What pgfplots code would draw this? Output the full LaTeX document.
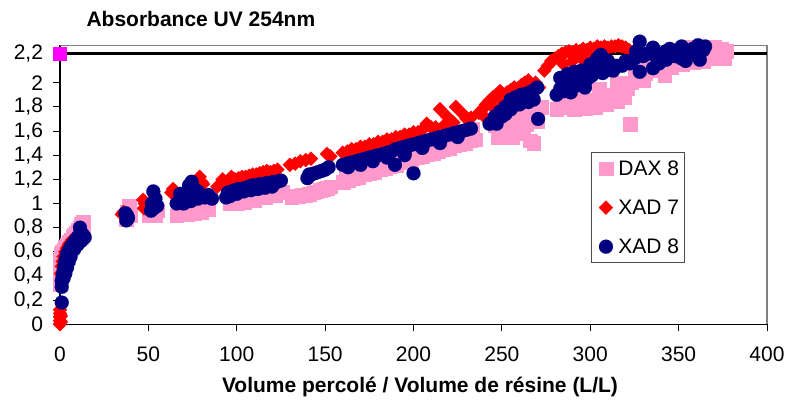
\documentclass[border=0pt]{standalone}
\usepackage{pgfplots}
\pgfplotsset{compat=1.18}
\usepackage{fontspec}
\setmainfont{Liberation Sans}
\definecolor{daxpink}{HTML}{FF99CC}
\definecolor{xadred}{HTML}{FF0000}
\definecolor{xadnavy}{HTML}{000080}
\definecolor{refmag}{HTML}{FF00FF}
\begin{document}
\begin{tikzpicture}[x=1pt,y=1pt]
\path[use as bounding box] (0,0) rectangle (785,401);
\begin{axis}[
  at={(60pt,76.7pt)}, anchor=south west,
  scale only axis, width=707pt, height=278.8pt,
  xmin=0, xmax=400, ymin=0, ymax=2.308,
  clip=false,
  axis x line*=bottom, axis y line*=left,
  axis line style={black, line width=1.2pt, -},
  xtick={0,50,...,400},
  ytick={0,0.2,0.4,0.6,0.8,1,1.2,1.4,1.6,1.8,2,2.243},
  yticklabels={0,{0,2},{0,4},{0,6},{0,8},1,{1,2},{1,4},{1,6},{1,8},2,{2,2}},
  tick align=outside, major tick length=7pt,
  tick style={black, line width=1pt},
  /pgf/number format/assume math mode=true,
  ticklabel style={font=\fontsize{21}{25}\selectfont},
  xticklabel style={yshift=-12.5pt},
  yticklabel style={xshift=-6.5pt},
  legend style={at={(0.751,0.618)}, anchor=north west, draw=black!70, line width=1pt,
    font=\fontsize{21}{25}\selectfont, row sep=19pt, inner xsep=3pt, inner ysep=6pt},
  legend image code/.code={\path (0pt,0pt) (21pt,0pt); \draw[#1] plot coordinates {(11pt,0pt)};},
  legend cell align=left,
]
\draw[gray, line width=1.4pt] (rel axis cs:0,1) -- (rel axis cs:1,1) -- (rel axis cs:1,0);
% DAX 8
\addplot[only marks, mark=square*, mark size=6.8pt, color=daxpink, mark options={line width=0.1pt}] coordinates {
(0,0.33) (0,0.4) (0,0.47) (0,0.53) (0.5,0.58) (1,0.6) (2,0.62) (3,0.64) (4,0.66) (5,0.68) (6,0.7) (7,0.72) (8,0.74) (9,0.76) (10,0.78) (11,0.8) (12,0.83) (13,0.85) (12,0.72) (13,0.76)
(37.5,0.87) (38,0.93) (39,0.98) (39.5,0.9)
(50,0.9) (51,0.93) (52,0.95) (53,0.92) (54,0.9) (55,0.94)
(66,0.9) (68,0.92) (70,0.93) (72,0.91) (74,0.94) (76,0.92) (78,0.95) (80,0.93) (82,0.96) (84,0.95) (70,0.96) (76,0.97)
(96,1.0) (98,1.01) (100,1.0) (102,1.02) (104,1.01) (106,1.03) (108,1.04) (110,1.03) (112,1.05) (114,1.06) (116,1.05) (118,1.07) (120,1.08) (122,1.07) (124,1.09) (126,1.1) (100,1.04) (110,1.07)
(131,1.05) (133,1.06) (135,1.06) (137,1.07) (139,1.07) (141,1.08) (143,1.09) (145,1.1) (147,1.11) (149,1.12) (151,1.13) (153,1.14)
(160,1.18) (163,1.19) (166,1.21) (169,1.22) (172,1.24) (175,1.25) (178,1.26) (181,1.28) (184,1.29) (187,1.31) (190,1.32) (193,1.34) (196,1.35) (199,1.36) (202,1.38) (205,1.39) (208,1.41) (211,1.42) (214,1.43) (217,1.45) (220,1.46) (223,1.48) (226,1.49) (229,1.5) (232,1.52) (235,1.53)
(161.5,1.28) (167.5,1.3) (173.5,1.33) (179.5,1.36) (185.5,1.39) (191.5,1.42) (197.5,1.44) (203.5,1.47) (209.5,1.5) (215.5,1.53) (221.5,1.56) (227.5,1.59) (233.5,1.62)
(248,1.55) (250,1.6) (252,1.58) (254,1.62) (256,1.6) (258,1.65) (260,1.63) (262,1.68) (264,1.66) (266,1.52) (268,1.5) (266,1.7) (268,1.74) (270,1.78) (272,1.8) (256,1.55) (262,1.58) (270,1.68) (246,1.65) (252,1.68) (258,1.72) (264,1.75)
(281,1.78) (283,1.82) (285,1.8) (287,1.85) (289,1.83) (291,1.78) (293,1.8) (295,1.84) (297,1.79) (299,1.82) (301,1.86) (303,1.8) (305,1.84) (307,1.88) (309,1.82) (311,1.86) (313,1.9) (315,1.85) (317,1.92) (319,1.88) (321,1.95) (323,2.0) (285,1.9) (295,1.92) (305,1.95) (315,2.0) (322.5,1.66)
(325,2.05) (328,2.1) (331,2.08) (334,2.12) (337,2.1) (340,2.14) (343,2.16) (346,2.13) (349,2.17) (352,2.15) (355,2.19) (358,2.17) (361,2.2) (364,2.18) (367,2.22) (370,2.2) (373,2.23) (376,2.2) (377,2.26) (374,2.28) (370,2.3) (365,2.3) (360,2.28) (355,2.3) (350,2.27) (345,2.25) (340,2.24) (335,2.2) (330,2.18) (330,2.02) (342,2.06)
};
\addlegendentry{DAX 8}
% XAD 7
\addplot[only marks, mark=square*, mark size=5pt, color=xadred, mark options={rotate=45, line width=0.1pt}] coordinates {
(0,0.0) (0,0.03) (0,0.06) (0,0.09) (0,0.12) (0.5,0.02) (0.5,0.07)
(0.5,0.42) (1,0.48) (1.5,0.52) (2,0.56) (3,0.6) (4,0.63) (5,0.66) (6,0.68) (7,0.7)
(35,0.91) (36,0.93)
(47,1.03) (47.5,0.96) (48,1.0)
(63,1.09) (64,1.12) (65,1.1) (66,1.08) (79,1.22) (80,1.18) (78,1.2) (81,1.16)
(89,1.14) (91,1.16) (93,1.17) (95,1.18) (97,1.19) (99,1.2) (101,1.21) (103,1.22) (105,1.22) (107,1.23) (109,1.24) (111,1.24) (113,1.25) (115,1.26) (117,1.27) (119,1.26) (121,1.27) (123,1.28) (92,1.2) (97,1.22)
(130,1.32) (133,1.33) (136,1.35) (139,1.36) (142,1.37) (151,1.41) (153,1.39)
(160,1.42) (162.5,1.43) (165,1.45) (167.5,1.45) (170,1.47) (172.5,1.47) (175,1.49) (177.5,1.49) (180,1.51) (182.5,1.51) (185,1.53) (187.5,1.53) (190,1.55) (192.5,1.55) (195,1.57) (197.5,1.57) (200,1.59) (202.5,1.59) (205,1.61) (207.5,1.66) (210,1.63) (212.5,1.63) (215,1.78) (217.5,1.65) (219,1.72) (222.5,1.67) (224,1.8) (228,1.74) (230,1.7) (232.5,1.71)
(237,1.75) (239,1.78) (241,1.82) (243,1.85) (245,1.88) (247,1.9) (249,1.93) (251,1.9) (253,1.92) (255,1.94) (257,1.96) (259,1.95) (261,1.98) (263,2.0) (265,2.02) (267,1.98) (269,2.0) (271,1.96) (240,1.72) (245,1.8) (250,1.85) (255,1.88)
(274,2.1) (276,2.14) (278,2.18) (280,2.2) (282,2.22) (284,2.24) (286,2.25) (288,2.26) (290,2.25) (292,2.27) (294,2.26) (296,2.28) (298,2.27) (300,2.29) (302,2.28) (304,2.3) (306,2.29) (308,2.3) (310,2.29) (312,2.3) (314,2.3) (316,2.31) (318,2.3) (320,2.29) (322,2.27) (285,2.15) (290,2.18) (295,2.2) (300,2.22)
};
\addlegendentry{XAD 7}
% XAD 8
\addplot[only marks, mark=*, mark size=7pt, color=xadnavy, mark options={line width=0.1pt}] coordinates {
(1,0.18) (1,0.31) (1,0.36) (1.5,0.4) (2,0.44) (2.5,0.48) (3,0.52) (3.5,0.55) (4,0.58) (5,0.61) (6,0.64) (7,0.66) (8,0.68) (9,0.7) (10,0.72) (11,0.74) (12,0.76) (13,0.74) (11.3,0.8) (14,0.72) (2,0.38) (3,0.42) (4,0.47) (5,0.52) (6,0.56) (8,0.62) (10,0.66) (12,0.69)
(37.5,0.86) (38,0.9) (38.5,0.88) (37,0.92)
(52.8,1.1) (52,1.0) (53,0.96) (55,0.98) (54,1.04) (51.5,0.94)
(66,1.0) (68,1.02) (70,1.0) (72,1.04) (74,1.02) (76,1.06) (78,1.04) (80,1.06) (82,1.05) (84,1.07) (70,1.06) (72,1.1) (74,1.14) (74.5,1.18) (76,1.12) (78,1.1) (73,1.15) (75,1.08) (68,1.08) (86,1.04)
(94,1.05) (95,1.09) (97,1.1) (99,1.11) (101,1.12) (103,1.12) (105,1.13) (107,1.14) (109,1.15) (111,1.15) (113,1.16) (115,1.16) (117,1.17) (119,1.17) (121,1.18) (123,1.18) (125,1.19) (96,1.06) (100,1.08) (104,1.1) (108,1.11) (112,1.12) (116,1.13) (120,1.14)
(140,1.21) (142,1.24) (144,1.25) (146,1.26) (148,1.27) (150,1.28) (152,1.3) (141,1.24)
(160,1.32) (162.5,1.33) (165,1.34) (167.5,1.35) (170,1.36) (172.5,1.37) (175,1.38) (177.5,1.39) (180,1.4) (182.5,1.41) (185,1.42) (187.5,1.43) (190,1.45) (192.5,1.46) (195,1.47) (197.5,1.48) (200,1.49) (202.5,1.5) (205,1.51) (207.5,1.52) (210,1.53) (212.5,1.54) (215,1.55) (217.5,1.56) (220,1.57) (222.5,1.58) (225,1.59) (227.5,1.6) (230,1.61) (232.5,1.62)
(163,1.3) (170,1.32) (177,1.35) (185,1.38) (195,1.42) (205,1.46) (215,1.5) (225,1.55) (189.5,1.32) (200,1.25) (195,1.4)
(243,1.66) (246,1.72) (249,1.76) (252,1.8) (255,1.86) (258,1.88) (261,1.9) (264,1.91) (267,1.93) (270,1.96) (245,1.68) (250,1.72) (255,1.78) (260,1.82) (265,1.84) (268,1.86) (252,1.74) (247,1.66) (270.5,1.7) (262,1.86) (258,1.82)
(281,1.9) (283,1.95) (285,1.93) (287,1.96) (289,1.98) (291,2.0) (293,1.98) (295,2.02) (297,2.0) (299,2.04) (301,2.06) (303,2.1) (305,2.12) (307,2.08) (309,2.1) (311,2.12) (313,2.1) (315,2.14) (283,2.04) (287,2.07) (291,2.09) (295,2.1) (300,2.15) (304,2.2) (306,2.23) (310,2.18) (297,1.96) (289,1.92)
(318,2.14) (320,2.18) (322.5,2.16) (325,2.2) (326,2.26) (328,2.34) (328,2.09) (330,2.22) (332,2.24) (335.5,2.12) (335.5,2.29) (337,2.22) (340,2.24) (343,2.26) (343,2.19) (346,2.24) (348,2.22) (351.7,2.3) (351.7,2.2) (354,2.18) (356,2.24) (358,2.28) (361,2.31) (362,2.19) (364,2.27) (365,2.3) (339,2.16) (345,2.28)
};
\addlegendentry{XAD 8}
\addplot[black, line width=3pt, forget plot] coordinates {(0,2.243) (400,2.243)};
\addplot[only marks, mark=square*, mark size=6.5pt, color=refmag, mark options={line width=0.1pt}, forget plot] coordinates {(0,2.243)};
\end{axis}
\node[anchor=base west, font=\bfseries\fontsize{21}{25}\selectfont] at (83,374.3) {Absorbance UV 254nm};
\node[anchor=base, font=\bfseries\fontsize{21}{25}\selectfont] at (420,8) {Volume percolé / Volume de résine (L/L)};
\end{tikzpicture}
\end{document}
